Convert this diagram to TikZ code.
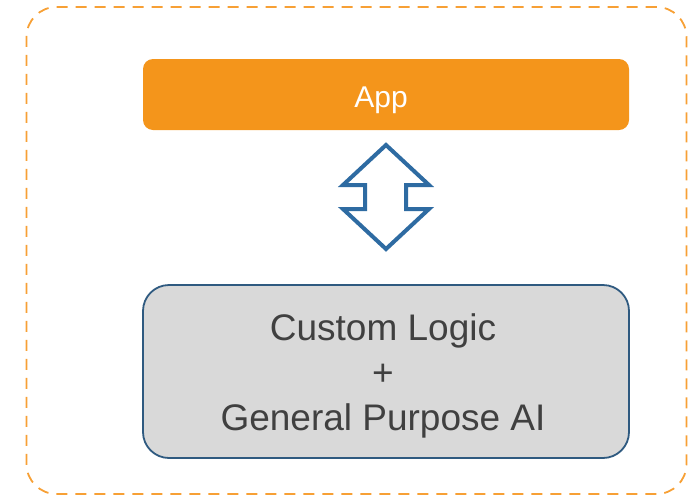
\documentclass[tikz,border=0pt]{standalone}
\usepackage{fontspec}
\setmainfont{Liberation Sans}
\definecolor{frameorange}{HTML}{F7A035}
\definecolor{apporange}{HTML}{F4951B}
\definecolor{logicgray}{HTML}{D9D9D9}
\definecolor{logicblue}{HTML}{2F5A80}
\definecolor{arrowblue}{HTML}{2E6BA2}
\definecolor{textgray}{HTML}{404040}
\begin{document}
\begin{tikzpicture}[x=1pt,y=-1pt,
  framebox/.style={draw=frameorange,line width=1.8pt,dash pattern=on 11pt off 8pt,rounded corners=30pt,minimum width=660pt,minimum height=487pt,inner sep=0pt},
  appbox/.style={fill=apporange,rounded corners=10pt,minimum width=486pt,minimum height=71pt,inner sep=0pt},
  applabel/.style={text=white,font=\fontsize{30}{36}\selectfont,inner sep=0pt},
  logicbox/.style={fill=logicgray,draw=logicblue,line width=1.8pt,rounded corners=26pt,minimum width=486pt,minimum height=173pt,inner sep=0pt},
  logiclabel/.style={text=textgray,align=center,inner sep=0pt,font=\fontsize{37}{45}\selectfont},
  bigarrow/.style={draw=arrowblue,line width=4pt,line join=miter,fill=white}]
\useasboundingbox (0,0) rectangle (690,496);
\node[framebox] (frame) at (356.5,250.5) {};
\node[appbox] (app) at (386,94.5) {};
\node[applabel] (apptext) at (381,100) {App};
\node[logicbox] (logic) at (386,371.5) {};
\node[logiclabel] (logictext) at (383,376) {Custom Logic\\+\\General Purpose AI};
\draw[bigarrow] (386,145) -- (429,185) -- (406,185) -- (406,209) -- (429,209) -- (386,249) -- (343,209) -- (365,209) -- (365,185) -- (343,185) -- cycle;
\end{tikzpicture}
\end{document}
